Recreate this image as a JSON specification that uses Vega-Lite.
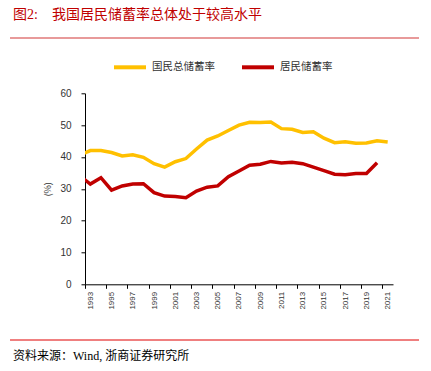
{
  "$schema": "https://vega.github.io/schema/vega-lite/v6.json",
  "autosize": "none",
  "width": 308,
  "height": 191,
  "padding": {"left": 85, "top": 93.3, "right": 38, "bottom": 86.7},
  "background": "white",
  "title": {
    "text": "图2:　我国居民储蓄率总体处于较高水平",
    "anchor": "start",
    "frame": "group",
    "dx": -72,
    "offset": 15,
    "font": "Liberation Serif, Noto Sans CJK SC",
    "fontSize": 14,
    "fontWeight": "normal",
    "color": "#C00000"
  },
  "config": {
    "view": {"stroke": null},
    "axis": {"grid": false, "domainColor": "#000000", "tickColor": "#000000", "labelColor": "#333333", "labelFont": "Liberation Sans, Arial", "tickSize": 4, "labelOverlap": false, "labelSeparation": 0},
    "axisX": {"labelOverlap": false},
    "axisY": {"labelOverlap": false},
    "axisQuantitative": {"labelOverlap": false, "tickCount": 30}
  },
  "datasets": {
    "series": [
      {"year": 1992, "series": "国民总储蓄率", "value": 40.6},
      {"year": 1993, "series": "国民总储蓄率", "value": 42.0},
      {"year": 1994, "series": "国民总储蓄率", "value": 42.0},
      {"year": 1995, "series": "国民总储蓄率", "value": 41.4},
      {"year": 1996, "series": "国民总储蓄率", "value": 40.3},
      {"year": 1997, "series": "国民总储蓄率", "value": 40.7},
      {"year": 1998, "series": "国民总储蓄率", "value": 39.9},
      {"year": 1999, "series": "国民总储蓄率", "value": 37.9},
      {"year": 2000, "series": "国民总储蓄率", "value": 36.8},
      {"year": 2001, "series": "国民总储蓄率", "value": 38.5},
      {"year": 2002, "series": "国民总储蓄率", "value": 39.5},
      {"year": 2003, "series": "国民总储蓄率", "value": 42.5},
      {"year": 2004, "series": "国民总储蓄率", "value": 45.3},
      {"year": 2005, "series": "国民总储蓄率", "value": 46.6},
      {"year": 2006, "series": "国民总储蓄率", "value": 48.3},
      {"year": 2007, "series": "国民总储蓄率", "value": 50.0},
      {"year": 2008, "series": "国民总储蓄率", "value": 50.9},
      {"year": 2009, "series": "国民总储蓄率", "value": 50.8},
      {"year": 2010, "series": "国民总储蓄率", "value": 51.0},
      {"year": 2011, "series": "国民总储蓄率", "value": 48.9},
      {"year": 2012, "series": "国民总储蓄率", "value": 48.7},
      {"year": 2013, "series": "国民总储蓄率", "value": 47.7},
      {"year": 2014, "series": "国民总储蓄率", "value": 47.9},
      {"year": 2015, "series": "国民总储蓄率", "value": 45.9},
      {"year": 2016, "series": "国民总储蓄率", "value": 44.5},
      {"year": 2017, "series": "国民总储蓄率", "value": 44.8},
      {"year": 2018, "series": "国民总储蓄率", "value": 44.3},
      {"year": 2019, "series": "国民总储蓄率", "value": 44.4},
      {"year": 2020, "series": "国民总储蓄率", "value": 45.1},
      {"year": 2021, "series": "国民总储蓄率", "value": 44.7},
      {"year": 1992, "series": "居民储蓄率", "value": 34.1},
      {"year": 1993, "series": "居民储蓄率", "value": 31.5},
      {"year": 1994, "series": "居民储蓄率", "value": 33.5},
      {"year": 1995, "series": "居民储蓄率", "value": 29.6},
      {"year": 1996, "series": "居民储蓄率", "value": 30.9},
      {"year": 1997, "series": "居民储蓄率", "value": 31.5},
      {"year": 1998, "series": "居民储蓄率", "value": 31.6},
      {"year": 1999, "series": "居民储蓄率", "value": 28.8},
      {"year": 2000, "series": "居民储蓄率", "value": 27.7},
      {"year": 2001, "series": "居民储蓄率", "value": 27.6},
      {"year": 2002, "series": "居民储蓄率", "value": 27.2},
      {"year": 2003, "series": "居民储蓄率", "value": 29.3},
      {"year": 2004, "series": "居民储蓄率", "value": 30.5},
      {"year": 2005, "series": "居民储蓄率", "value": 30.9},
      {"year": 2006, "series": "居民储蓄率", "value": 33.8},
      {"year": 2007, "series": "居民储蓄率", "value": 35.6},
      {"year": 2008, "series": "居民储蓄率", "value": 37.4},
      {"year": 2009, "series": "居民储蓄率", "value": 37.7},
      {"year": 2010, "series": "居民储蓄率", "value": 38.6},
      {"year": 2011, "series": "居民储蓄率", "value": 38.1},
      {"year": 2012, "series": "居民储蓄率", "value": 38.3},
      {"year": 2013, "series": "居民储蓄率", "value": 37.9},
      {"year": 2014, "series": "居民储蓄率", "value": 36.8},
      {"year": 2015, "series": "居民储蓄率", "value": 35.7},
      {"year": 2016, "series": "居民储蓄率", "value": 34.6},
      {"year": 2017, "series": "居民储蓄率", "value": 34.4},
      {"year": 2018, "series": "居民储蓄率", "value": 34.8},
      {"year": 2019, "series": "居民储蓄率", "value": 34.8},
      {"year": 2020, "series": "居民储蓄率", "value": 38.2}
    ]
  },
  "encoding": {
    "x": {
      "type": "quantitative",
      "scale": {"domain": [1992.5, 2021.5], "nice": false, "zero": false},
      "axis": {
        "values": [1992.5, 1994.5, 1996.5, 1998.5, 2000.5, 2002.5, 2004.5, 2006.5, 2008.5, 2010.5, 2012.5, 2014.5, 2016.5, 2018.5, 2020.5],
        "labelExpr": "format(datum.value + 0.5, 'd')",
        "labelOffset": 5.3,
        "labelAngle": -90,
        "labelFontSize": 8,
        "labelPadding": 3,
        "labelOverlap": false,
        "title": "资料来源：Wind, 浙商证券研究所",
        "titleFont": "Liberation Serif, Noto Sans CJK SC",
        "titleFontSize": 12,
        "titleFontWeight": "normal",
        "titleColor": "#000000",
        "titleAlign": "left",
        "titleAnchor": "start",
        "titleX": -72.5,
        "titleY": 70.7,
        "titleBaseline": "middle"
      }
    },
    "y": {
      "type": "quantitative",
      "scale": {"domain": [0, 60], "nice": false},
      "axis": {
        "values": [0, 10, 20, 30, 40, 50, 60],
        "labelFontSize": 10,
        "labelPadding": 10,
        "labelOverlap": false,
        "title": "(%)",
        "titleFont": "Noto Sans CJK SC",
        "titleFontSize": 9,
        "titleFontWeight": "normal",
        "titleColor": "#333333",
        "titleX": -38,
        "titleY": 95.5,
        "titleAlign": "center",
        "titleBaseline": "middle"
      }
    }
  },
  "layer": [
    {
      "data": {"name": "series"},
      "mark": {"type": "line", "strokeWidth": 3.5, "clip": true},
      "encoding": {
        "x": {"field": "year"},
        "y": {"field": "value"},
        "color": {
          "field": "series", "type": "nominal",
          "scale": {"domain": ["国民总储蓄率", "居民储蓄率"], "range": ["#FFC000", "#C00000"]},
          "legend": {
            "title": null,
            "orient": "none",
            "direction": "horizontal",
            "legendX": 27,
            "legendY": -44,
            "symbolType": "stroke",
            "symbolSize": 1024,
            "symbolStrokeWidth": 4,
            "labelFont": "Noto Sans CJK SC",
            "labelFontSize": 10.5,
            "labelColor": "#333333",
            "labelOffset": 4,
            "columnPadding": 19
          }
        }
      }
    },
    {
      "data": {"values": [{}]},
      "mark": {"type": "rule", "color": "#E07878", "strokeWidth": 1.5, "clip": false},
      "encoding": {
        "x": {"datum": 1985.44},
        "x2": {"datum": 2023.95},
        "y": {"datum": 77.4}
      }
    },
    {
      "data": {"values": [{}]},
      "mark": {"type": "rule", "color": "#E00000", "strokeWidth": 1, "clip": false},
      "encoding": {
        "x": {"datum": 1985.44},
        "x2": {"datum": 2023.95},
        "y": {"datum": -17.5}
      }
    }
  ]
}
